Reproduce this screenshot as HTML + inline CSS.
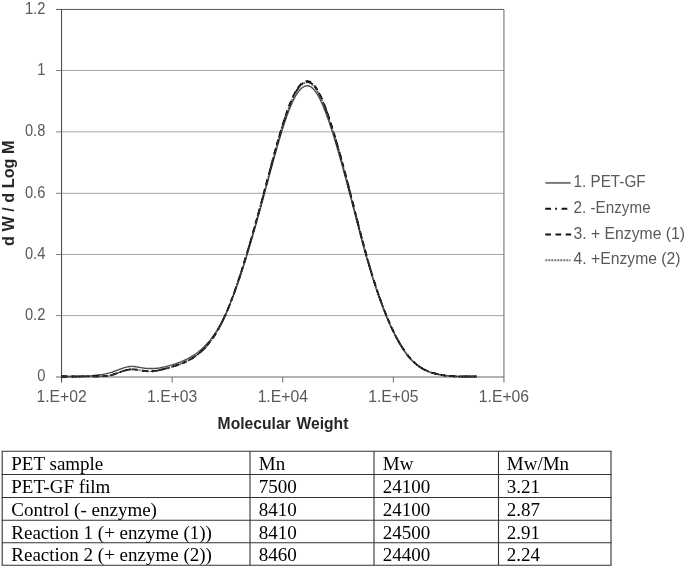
<!DOCTYPE html>
<html><head><meta charset="utf-8"><style>
html,body{margin:0;padding:0;background:#fff;}
body{width:685px;height:566px;overflow:hidden;}
svg{display:block;will-change:transform;}
.ax{font-family:"Liberation Sans",sans-serif;font-size:16.3px;fill:#595959;}
.tt{font-family:"Liberation Sans",sans-serif;font-size:16.5px;font-weight:bold;fill:#262626;}
.tb{font-family:"Liberation Serif",serif;font-size:19px;fill:#000;}
</style></head><body>
<svg width="685" height="566" viewBox="0 0 685 566">
<rect width="685" height="566" fill="#fff"/>
<line x1="61.57" y1="70.50" x2="503.93" y2="70.50" stroke="#a6a6a6" stroke-width="1"/>
<line x1="61.57" y1="131.85" x2="503.93" y2="131.85" stroke="#a6a6a6" stroke-width="1"/>
<line x1="61.57" y1="193.30" x2="503.93" y2="193.30" stroke="#a6a6a6" stroke-width="1"/>
<line x1="61.57" y1="254.50" x2="503.93" y2="254.50" stroke="#a6a6a6" stroke-width="1"/>
<line x1="61.57" y1="315.60" x2="503.93" y2="315.60" stroke="#a6a6a6" stroke-width="1"/>
<line x1="56" y1="9.45" x2="503.93" y2="9.45" stroke="#595959" stroke-width="1"/>
<line x1="503.93" y1="9.45" x2="503.93" y2="382.6" stroke="#808080" stroke-width="1.2"/>
<line x1="56" y1="377.0" x2="503.93" y2="377.0" stroke="#666" stroke-width="1.1"/>
<line x1="61.57" y1="9.45" x2="61.57" y2="382.6" stroke="#404040" stroke-width="1"/>
<line x1="56" y1="70.50" x2="61.57" y2="70.50" stroke="#808080" stroke-width="1"/>
<line x1="56" y1="131.85" x2="61.57" y2="131.85" stroke="#808080" stroke-width="1"/>
<line x1="56" y1="193.30" x2="61.57" y2="193.30" stroke="#808080" stroke-width="1"/>
<line x1="56" y1="254.50" x2="61.57" y2="254.50" stroke="#808080" stroke-width="1"/>
<line x1="56" y1="315.60" x2="61.57" y2="315.60" stroke="#808080" stroke-width="1"/>
<line x1="172.16" y1="376.95" x2="172.16" y2="382.6" stroke="#707070" stroke-width="1"/>
<line x1="282.75" y1="376.95" x2="282.75" y2="382.6" stroke="#707070" stroke-width="1"/>
<line x1="393.34" y1="376.95" x2="393.34" y2="382.6" stroke="#707070" stroke-width="1"/>
<g class="ax">
<text transform="translate(45.30,381.45) scale(0.9,1)" text-anchor="end">0</text>

<text transform="translate(45.30,320.20) scale(0.9,1)" text-anchor="end">0.2</text>

<text transform="translate(45.30,258.95) scale(0.9,1)" text-anchor="end">0.4</text>

<text transform="translate(45.30,197.70) scale(0.9,1)" text-anchor="end">0.6</text>

<text transform="translate(45.30,136.45) scale(0.9,1)" text-anchor="end">0.8</text>

<text transform="translate(45.30,75.20) scale(0.9,1)" text-anchor="end">1</text>

<text transform="translate(45.30,13.95) scale(0.9,1)" text-anchor="end">1.2</text>

<text transform="translate(61.57,402.25) scale(0.965,1)" text-anchor="middle">1.E+02</text>

<text transform="translate(172.16,402.25) scale(0.965,1)" text-anchor="middle">1.E+03</text>

<text transform="translate(282.75,402.25) scale(0.965,1)" text-anchor="middle">1.E+04</text>

<text transform="translate(393.34,402.25) scale(0.965,1)" text-anchor="middle">1.E+05</text>

<text transform="translate(503.93,402.25) scale(0.965,1)" text-anchor="middle">1.E+06</text>

</g>
<path d="M61.5,376.49 L62.5,376.50 L63.5,376.50 L64.5,376.50 L65.5,376.50 L66.5,376.50 L67.5,376.50 L68.5,376.50 L69.5,376.50 L70.5,376.50 L71.5,376.50 L72.5,376.50 L73.5,376.50 L74.5,376.50 L75.5,376.50 L76.5,376.50 L77.5,376.50 L78.5,376.49 L79.5,376.47 L80.5,376.45 L81.5,376.43 L82.5,376.40 L83.5,376.38 L84.5,376.36 L85.5,376.34 L86.5,376.32 L87.5,376.30 L88.5,376.27 L89.5,376.18 L90.5,376.03 L91.5,375.85 L92.5,375.67 L93.5,375.51 L94.5,375.38 L95.5,375.26 L96.5,375.15 L97.5,375.04 L98.5,374.94 L99.5,374.83 L100.5,374.72 L101.5,374.60 L102.5,374.46 L103.5,374.29 L104.5,374.09 L105.5,373.88 L106.5,373.64 L107.5,373.40 L108.5,373.16 L109.5,372.91 L110.5,372.63 L111.5,372.33 L112.5,372.00 L113.5,371.65 L114.5,371.28 L115.5,370.91 L116.5,370.52 L117.5,370.13 L118.5,369.75 L119.5,369.37 L120.5,369.00 L121.5,368.64 L122.5,368.29 L123.5,367.95 L124.5,367.64 L125.5,367.36 L126.5,367.10 L127.5,366.88 L128.5,366.69 L129.5,366.55 L130.5,366.45 L131.5,366.40 L132.5,366.40 L133.5,366.46 L134.5,366.56 L135.5,366.70 L136.5,366.86 L137.5,367.04 L138.5,367.22 L139.5,367.40 L140.5,367.57 L141.5,367.74 L142.5,367.90 L143.5,368.06 L144.5,368.20 L145.5,368.32 L146.5,368.42 L147.5,368.50 L148.5,368.54 L149.5,368.56 L150.5,368.55 L151.5,368.54 L152.5,368.52 L153.5,368.49 L154.5,368.45 L155.5,368.39 L156.5,368.31 L157.5,368.22 L158.5,368.09 L159.5,367.94 L160.5,367.76 L161.5,367.56 L162.5,367.35 L163.5,367.13 L164.5,366.90 L165.5,366.66 L166.5,366.42 L167.5,366.16 L168.5,365.90 L169.5,365.62 L170.5,365.35 L171.5,365.06 L172.5,364.77 L173.5,364.46 L174.5,364.14 L175.5,363.81 L176.5,363.46 L177.5,363.10 L178.5,362.73 L179.5,362.35 L180.5,361.96 L181.5,361.55 L182.5,361.13 L183.5,360.69 L184.5,360.24 L185.5,359.78 L186.5,359.30 L187.5,358.80 L188.5,358.27 L189.5,357.72 L190.5,357.16 L191.5,356.56 L192.5,355.95 L193.5,355.31 L194.5,354.65 L195.5,353.96 L196.5,353.25 L197.5,352.50 L198.5,351.73 L199.5,350.93 L200.5,350.10 L201.5,349.23 L202.5,348.32 L203.5,347.38 L204.5,346.39 L205.5,345.36 L206.5,344.30 L207.5,343.20 L208.5,342.05 L209.5,340.87 L210.5,339.64 L211.5,338.35 L212.5,337.02 L213.5,335.64 L214.5,334.20 L215.5,332.70 L216.5,331.15 L217.5,329.55 L218.5,327.88 L219.5,326.16 L220.5,324.37 L221.5,322.52 L222.5,320.60 L223.5,318.62 L224.5,316.56 L225.5,314.44 L226.5,312.25 L227.5,309.99 L228.5,307.67 L229.5,305.28 L230.5,302.83 L231.5,300.33 L232.5,297.76 L233.5,295.14 L234.5,292.46 L235.5,289.74 L236.5,286.97 L237.5,284.16 L238.5,281.30 L239.5,278.40 L240.5,275.44 L241.5,272.44 L242.5,269.39 L243.5,266.28 L244.5,263.11 L245.5,259.89 L246.5,256.64 L247.5,253.35 L248.5,250.03 L249.5,246.67 L250.5,243.29 L251.5,239.88 L252.5,236.44 L253.5,232.98 L254.5,229.49 L255.5,225.97 L256.5,222.44 L257.5,218.87 L258.5,215.29 L259.5,211.69 L260.5,208.06 L261.5,204.42 L262.5,200.76 L263.5,197.08 L264.5,193.39 L265.5,189.69 L266.5,185.99 L267.5,182.28 L268.5,178.57 L269.5,174.87 L270.5,171.17 L271.5,167.49 L272.5,163.82 L273.5,160.17 L274.5,156.55 L275.5,152.96 L276.5,149.40 L277.5,145.88 L278.5,142.41 L279.5,138.99 L280.5,135.63 L281.5,132.34 L282.5,129.11 L283.5,125.96 L284.5,122.90 L285.5,119.92 L286.5,117.03 L287.5,114.24 L288.5,111.56 L289.5,108.99 L290.5,106.53 L291.5,104.20 L292.5,101.99 L293.5,99.92 L294.5,97.98 L295.5,96.17 L296.5,94.50 L297.5,92.97 L298.5,91.59 L299.5,90.34 L300.5,89.24 L301.5,88.29 L302.5,87.49 L303.5,86.84 L304.5,86.34 L305.5,86.00 L306.5,85.82 L307.5,85.80 L308.5,85.94 L309.5,86.24 L310.5,86.71 L311.5,87.35 L312.5,88.15 L313.5,89.13 L314.5,90.27 L315.5,91.56 L316.5,93.01 L317.5,94.60 L318.5,96.34 L319.5,98.21 L320.5,100.21 L321.5,102.33 L322.5,104.58 L323.5,106.94 L324.5,109.40 L325.5,111.97 L326.5,114.64 L327.5,117.40 L328.5,120.25 L329.5,123.18 L330.5,126.18 L331.5,129.26 L332.5,132.40 L333.5,135.60 L334.5,138.85 L335.5,142.16 L336.5,145.53 L337.5,148.94 L338.5,152.40 L339.5,155.90 L340.5,159.44 L341.5,163.03 L342.5,166.65 L343.5,170.31 L344.5,174.00 L345.5,177.71 L346.5,181.46 L347.5,185.23 L348.5,189.03 L349.5,192.84 L350.5,196.67 L351.5,200.52 L352.5,204.38 L353.5,208.25 L354.5,212.13 L355.5,216.01 L356.5,219.88 L357.5,223.74 L358.5,227.60 L359.5,231.43 L360.5,235.24 L361.5,239.02 L362.5,242.76 L363.5,246.47 L364.5,250.13 L365.5,253.75 L366.5,257.31 L367.5,260.81 L368.5,264.26 L369.5,267.65 L370.5,270.98 L371.5,274.26 L372.5,277.48 L373.5,280.64 L374.5,283.75 L375.5,286.81 L376.5,289.80 L377.5,292.74 L378.5,295.63 L379.5,298.45 L380.5,301.23 L381.5,303.94 L382.5,306.61 L383.5,309.21 L384.5,311.76 L385.5,314.26 L386.5,316.70 L387.5,319.08 L388.5,321.41 L389.5,323.68 L390.5,325.90 L391.5,328.07 L392.5,330.18 L393.5,332.23 L394.5,334.23 L395.5,336.17 L396.5,338.06 L397.5,339.90 L398.5,341.68 L399.5,343.41 L400.5,345.08 L401.5,346.70 L402.5,348.27 L403.5,349.78 L404.5,351.23 L405.5,352.64 L406.5,353.98 L407.5,355.28 L408.5,356.52 L409.5,357.71 L410.5,358.84 L411.5,359.93 L412.5,360.95 L413.5,361.93 L414.5,362.86 L415.5,363.74 L416.5,364.58 L417.5,365.37 L418.5,366.11 L419.5,366.82 L420.5,367.49 L421.5,368.11 L422.5,368.70 L423.5,369.26 L424.5,369.78 L425.5,370.27 L426.5,370.73 L427.5,371.16 L428.5,371.57 L429.5,371.94 L430.5,372.30 L431.5,372.63 L432.5,372.94 L433.5,373.23 L434.5,373.50 L435.5,373.76 L436.5,374.00 L437.5,374.23 L438.5,374.44 L439.5,374.64 L440.5,374.83 L441.5,375.00 L442.5,375.17 L443.5,375.32 L444.5,375.46 L445.5,375.58 L446.5,375.70 L447.5,375.81 L448.5,375.91 L449.5,376.00 L450.5,376.08 L451.5,376.15 L452.5,376.22 L453.5,376.28 L454.5,376.33 L455.5,376.37 L456.5,376.41 L457.5,376.44 L458.5,376.46 L459.5,376.48 L460.5,376.50 L461.5,376.50 L462.5,376.50 L463.5,376.50 L464.5,376.50 L465.5,376.50 L466.5,376.50 L467.5,376.50 L468.5,376.50 L469.5,376.50 L470.5,376.50 L471.5,376.49 L472.5,376.49 L473.5,376.48 L474.5,376.48 L475.5,376.48 L476.5,376.47" fill="none" stroke="#505050" stroke-width="1.4" stroke-linejoin="round"/>
<path d="M61.5,376.49 L62.5,376.50 L63.5,376.50 L64.5,376.50 L65.5,376.50 L66.5,376.50 L67.5,376.50 L68.5,376.50 L69.5,376.50 L70.5,376.50 L71.5,376.50 L72.5,376.50 L73.5,376.50 L74.5,376.50 L75.5,376.50 L76.5,376.50 L77.5,376.50 L78.5,376.49 L79.5,376.47 L80.5,376.45 L81.5,376.42 L82.5,376.40 L83.5,376.38 L84.5,376.36 L85.5,376.34 L86.5,376.32 L87.5,376.30 L88.5,376.28 L89.5,376.27 L90.5,376.25 L91.5,376.24 L92.5,376.24 L93.5,376.23 L94.5,376.23 L95.5,376.23 L96.5,376.23 L97.5,376.23 L98.5,376.23 L99.5,376.23 L100.5,376.22 L101.5,376.22 L102.5,376.20 L103.5,376.18 L104.5,376.13 L105.5,376.07 L106.5,375.98 L107.5,375.86 L108.5,375.71 L109.5,375.53 L110.5,375.30 L111.5,375.05 L112.5,374.76 L113.5,374.45 L114.5,374.12 L115.5,373.78 L116.5,373.42 L117.5,373.05 L118.5,372.68 L119.5,372.31 L120.5,371.94 L121.5,371.58 L122.5,371.24 L123.5,370.91 L124.5,370.60 L125.5,370.32 L126.5,370.07 L127.5,369.84 L128.5,369.66 L129.5,369.52 L130.5,369.42 L131.5,369.37 L132.5,369.37 L133.5,369.40 L134.5,369.46 L135.5,369.56 L136.5,369.68 L137.5,369.82 L138.5,369.97 L139.5,370.14 L140.5,370.31 L141.5,370.48 L142.5,370.65 L143.5,370.81 L144.5,370.96 L145.5,371.09 L146.5,371.19 L147.5,371.27 L148.5,371.32 L149.5,371.34 L150.5,371.33 L151.5,371.29 L152.5,371.23 L153.5,371.14 L154.5,371.03 L155.5,370.90 L156.5,370.74 L157.5,370.57 L158.5,370.38 L159.5,370.17 L160.5,369.95 L161.5,369.71 L162.5,369.47 L163.5,369.21 L164.5,368.94 L165.5,368.67 L166.5,368.38 L167.5,368.10 L168.5,367.81 L169.5,367.52 L170.5,367.22 L171.5,366.92 L172.5,366.63 L173.5,366.32 L174.5,366.01 L175.5,365.69 L176.5,365.37 L177.5,365.04 L178.5,364.69 L179.5,364.33 L180.5,363.97 L181.5,363.58 L182.5,363.19 L183.5,362.77 L184.5,362.34 L185.5,361.89 L186.5,361.43 L187.5,360.94 L188.5,360.42 L189.5,359.89 L190.5,359.33 L191.5,358.75 L192.5,358.14 L193.5,357.50 L194.5,356.83 L195.5,356.14 L196.5,355.41 L197.5,354.65 L198.5,353.86 L199.5,353.03 L200.5,352.17 L201.5,351.27 L202.5,350.33 L203.5,349.35 L204.5,348.32 L205.5,347.26 L206.5,346.15 L207.5,345.00 L208.5,343.79 L209.5,342.54 L210.5,341.24 L211.5,339.89 L212.5,338.49 L213.5,337.03 L214.5,335.52 L215.5,333.95 L216.5,332.32 L217.5,330.63 L218.5,328.88 L219.5,327.07 L220.5,325.20 L221.5,323.26 L222.5,321.25 L223.5,319.17 L224.5,317.03 L225.5,314.81 L226.5,312.53 L227.5,310.18 L228.5,307.76 L229.5,305.28 L230.5,302.74 L231.5,300.14 L232.5,297.47 L233.5,294.76 L234.5,291.98 L235.5,289.15 L236.5,286.28 L237.5,283.35 L238.5,280.37 L239.5,277.35 L240.5,274.28 L241.5,271.16 L242.5,268.01 L243.5,264.82 L244.5,261.59 L245.5,258.32 L246.5,255.02 L247.5,251.69 L248.5,248.32 L249.5,244.92 L250.5,241.50 L251.5,238.04 L252.5,234.55 L253.5,231.04 L254.5,227.51 L255.5,223.94 L256.5,220.36 L257.5,216.75 L258.5,213.12 L259.5,209.46 L260.5,205.79 L261.5,202.10 L262.5,198.39 L263.5,194.66 L264.5,190.92 L265.5,187.17 L266.5,183.42 L267.5,179.66 L268.5,175.90 L269.5,172.15 L270.5,168.40 L271.5,164.67 L272.5,160.95 L273.5,157.26 L274.5,153.58 L275.5,149.94 L276.5,146.33 L277.5,142.77 L278.5,139.25 L279.5,135.79 L280.5,132.38 L281.5,129.04 L282.5,125.78 L283.5,122.58 L284.5,119.48 L285.5,116.46 L286.5,113.53 L287.5,110.71 L288.5,107.99 L289.5,105.38 L290.5,102.89 L291.5,100.53 L292.5,98.29 L293.5,96.19 L294.5,94.22 L295.5,92.39 L296.5,90.70 L297.5,89.15 L298.5,87.74 L299.5,86.48 L300.5,85.37 L301.5,84.41 L302.5,83.59 L303.5,82.93 L304.5,82.43 L305.5,82.09 L306.5,81.90 L307.5,81.88 L308.5,82.02 L309.5,82.33 L310.5,82.80 L311.5,83.45 L312.5,84.26 L313.5,85.25 L314.5,86.41 L315.5,87.72 L316.5,89.18 L317.5,90.80 L318.5,92.56 L319.5,94.45 L320.5,96.48 L321.5,98.64 L322.5,100.91 L323.5,103.30 L324.5,105.80 L325.5,108.41 L326.5,111.11 L327.5,113.91 L328.5,116.79 L329.5,119.76 L330.5,122.81 L331.5,125.92 L332.5,129.10 L333.5,132.35 L334.5,135.65 L335.5,139.00 L336.5,142.41 L337.5,145.87 L338.5,149.37 L339.5,152.92 L340.5,156.52 L341.5,160.15 L342.5,163.82 L343.5,167.53 L344.5,171.26 L345.5,175.03 L346.5,178.83 L347.5,182.65 L348.5,186.50 L349.5,190.36 L350.5,194.25 L351.5,198.15 L352.5,202.06 L353.5,205.98 L354.5,209.91 L355.5,213.84 L356.5,217.77 L357.5,221.68 L358.5,225.59 L359.5,229.47 L360.5,233.33 L361.5,237.16 L362.5,240.96 L363.5,244.72 L364.5,248.43 L365.5,252.09 L366.5,255.70 L367.5,259.25 L368.5,262.74 L369.5,266.18 L370.5,269.56 L371.5,272.88 L372.5,276.14 L373.5,279.35 L374.5,282.50 L375.5,285.60 L376.5,288.63 L377.5,291.61 L378.5,294.54 L379.5,297.40 L380.5,300.21 L381.5,302.97 L382.5,305.66 L383.5,308.30 L384.5,310.89 L385.5,313.42 L386.5,315.89 L387.5,318.31 L388.5,320.67 L389.5,322.97 L390.5,325.22 L391.5,327.41 L392.5,329.55 L393.5,331.63 L394.5,333.66 L395.5,335.63 L396.5,337.55 L397.5,339.41 L398.5,341.21 L399.5,342.96 L400.5,344.66 L401.5,346.30 L402.5,347.88 L403.5,349.42 L404.5,350.89 L405.5,352.31 L406.5,353.68 L407.5,354.99 L408.5,356.25 L409.5,357.46 L410.5,358.61 L411.5,359.70 L412.5,360.74 L413.5,361.74 L414.5,362.68 L415.5,363.57 L416.5,364.42 L417.5,365.22 L418.5,365.97 L419.5,366.69 L420.5,367.36 L421.5,368.00 L422.5,368.60 L423.5,369.16 L424.5,369.69 L425.5,370.19 L426.5,370.65 L427.5,371.09 L428.5,371.50 L429.5,371.88 L430.5,372.24 L431.5,372.58 L432.5,372.89 L433.5,373.18 L434.5,373.46 L435.5,373.72 L436.5,373.97 L437.5,374.20 L438.5,374.41 L439.5,374.62 L440.5,374.81 L441.5,374.98 L442.5,375.15 L443.5,375.30 L444.5,375.44 L445.5,375.57 L446.5,375.69 L447.5,375.80 L448.5,375.90 L449.5,375.99 L450.5,376.08 L451.5,376.15 L452.5,376.21 L453.5,376.27 L454.5,376.32 L455.5,376.37 L456.5,376.40 L457.5,376.44 L458.5,376.46 L459.5,376.48 L460.5,376.50 L461.5,376.50 L462.5,376.50 L463.5,376.50 L464.5,376.50 L465.5,376.50 L466.5,376.50 L467.5,376.50 L468.5,376.50 L469.5,376.50 L470.5,376.50 L471.5,376.49 L472.5,376.49 L473.5,376.48 L474.5,376.48 L475.5,376.47 L476.5,376.47" fill="none" stroke="#000" stroke-width="1.8" stroke-dasharray="5.7,4.2,1.8,4.6" stroke-linejoin="round"/>
<path d="M61.5,376.49 L62.5,376.50 L63.5,376.50 L64.5,376.50 L65.5,376.50 L66.5,376.50 L67.5,376.50 L68.5,376.50 L69.5,376.50 L70.5,376.50 L71.5,376.50 L72.5,376.50 L73.5,376.50 L74.5,376.50 L75.5,376.50 L76.5,376.50 L77.5,376.50 L78.5,376.49 L79.5,376.47 L80.5,376.45 L81.5,376.42 L82.5,376.40 L83.5,376.38 L84.5,376.36 L85.5,376.34 L86.5,376.32 L87.5,376.30 L88.5,376.28 L89.5,376.27 L90.5,376.25 L91.5,376.24 L92.5,376.24 L93.5,376.23 L94.5,376.23 L95.5,376.23 L96.5,376.23 L97.5,376.23 L98.5,376.23 L99.5,376.23 L100.5,376.22 L101.5,376.22 L102.5,376.20 L103.5,376.17 L104.5,376.13 L105.5,376.07 L106.5,375.98 L107.5,375.86 L108.5,375.71 L109.5,375.52 L110.5,375.30 L111.5,375.04 L112.5,374.76 L113.5,374.45 L114.5,374.12 L115.5,373.77 L116.5,373.41 L117.5,373.04 L118.5,372.67 L119.5,372.30 L120.5,371.93 L121.5,371.57 L122.5,371.23 L123.5,370.90 L124.5,370.59 L125.5,370.31 L126.5,370.05 L127.5,369.83 L128.5,369.65 L129.5,369.50 L130.5,369.41 L131.5,369.36 L132.5,369.35 L133.5,369.38 L134.5,369.45 L135.5,369.54 L136.5,369.66 L137.5,369.80 L138.5,369.96 L139.5,370.12 L140.5,370.29 L141.5,370.47 L142.5,370.64 L143.5,370.80 L144.5,370.94 L145.5,371.07 L146.5,371.18 L147.5,371.26 L148.5,371.31 L149.5,371.33 L150.5,371.32 L151.5,371.28 L152.5,371.22 L153.5,371.13 L154.5,371.02 L155.5,370.88 L156.5,370.73 L157.5,370.56 L158.5,370.36 L159.5,370.16 L160.5,369.93 L161.5,369.70 L162.5,369.45 L163.5,369.19 L164.5,368.92 L165.5,368.65 L166.5,368.37 L167.5,368.08 L168.5,367.79 L169.5,367.49 L170.5,367.20 L171.5,366.90 L172.5,366.60 L173.5,366.30 L174.5,365.99 L175.5,365.67 L176.5,365.34 L177.5,365.01 L178.5,364.66 L179.5,364.31 L180.5,363.94 L181.5,363.55 L182.5,363.16 L183.5,362.74 L184.5,362.31 L185.5,361.86 L186.5,361.39 L187.5,360.90 L188.5,360.39 L189.5,359.85 L190.5,359.29 L191.5,358.71 L192.5,358.10 L193.5,357.46 L194.5,356.79 L195.5,356.09 L196.5,355.36 L197.5,354.60 L198.5,353.81 L199.5,352.98 L200.5,352.11 L201.5,351.21 L202.5,350.27 L203.5,349.28 L204.5,348.26 L205.5,347.19 L206.5,346.08 L207.5,344.92 L208.5,343.72 L209.5,342.47 L210.5,341.16 L211.5,339.81 L212.5,338.40 L213.5,336.94 L214.5,335.42 L215.5,333.85 L216.5,332.22 L217.5,330.53 L218.5,328.77 L219.5,326.96 L220.5,325.08 L221.5,323.13 L222.5,321.12 L223.5,319.04 L224.5,316.89 L225.5,314.67 L226.5,312.38 L227.5,310.03 L228.5,307.61 L229.5,305.12 L230.5,302.57 L231.5,299.96 L232.5,297.29 L233.5,294.57 L234.5,291.79 L235.5,288.95 L236.5,286.07 L237.5,283.13 L238.5,280.15 L239.5,277.12 L240.5,274.04 L241.5,270.92 L242.5,267.76 L243.5,264.56 L244.5,261.33 L245.5,258.05 L246.5,254.74 L247.5,251.40 L248.5,248.03 L249.5,244.62 L250.5,241.19 L251.5,237.72 L252.5,234.23 L253.5,230.71 L254.5,227.17 L255.5,223.60 L256.5,220.00 L257.5,216.38 L258.5,212.74 L259.5,209.08 L260.5,205.40 L261.5,201.70 L262.5,197.98 L263.5,194.25 L264.5,190.50 L265.5,186.74 L266.5,182.98 L267.5,179.21 L268.5,175.44 L269.5,171.68 L270.5,167.93 L271.5,164.18 L272.5,160.46 L273.5,156.75 L274.5,153.07 L275.5,149.42 L276.5,145.81 L277.5,142.23 L278.5,138.71 L279.5,135.24 L280.5,131.82 L281.5,128.48 L282.5,125.20 L283.5,122.00 L284.5,118.89 L285.5,115.86 L286.5,112.93 L287.5,110.10 L288.5,107.37 L289.5,104.76 L290.5,102.27 L291.5,99.90 L292.5,97.66 L293.5,95.55 L294.5,93.58 L295.5,91.74 L296.5,90.05 L297.5,88.49 L298.5,87.08 L299.5,85.82 L300.5,84.70 L301.5,83.74 L302.5,82.92 L303.5,82.26 L304.5,81.76 L305.5,81.41 L306.5,81.23 L307.5,81.20 L308.5,81.35 L309.5,81.65 L310.5,82.13 L311.5,82.78 L312.5,83.60 L313.5,84.59 L314.5,85.74 L315.5,87.06 L316.5,88.53 L317.5,90.15 L318.5,91.91 L319.5,93.81 L320.5,95.84 L321.5,98.00 L322.5,100.28 L323.5,102.68 L324.5,105.18 L325.5,107.79 L326.5,110.50 L327.5,113.31 L328.5,116.20 L329.5,119.17 L330.5,122.23 L331.5,125.35 L332.5,128.54 L333.5,131.79 L334.5,135.10 L335.5,138.46 L336.5,141.88 L337.5,145.34 L338.5,148.85 L339.5,152.41 L340.5,156.01 L341.5,159.65 L342.5,163.33 L343.5,167.05 L344.5,170.79 L345.5,174.57 L346.5,178.38 L347.5,182.21 L348.5,186.06 L349.5,189.94 L350.5,193.83 L351.5,197.74 L352.5,201.66 L353.5,205.59 L354.5,209.53 L355.5,213.47 L356.5,217.40 L357.5,221.33 L358.5,225.24 L359.5,229.14 L360.5,233.00 L361.5,236.84 L362.5,240.65 L363.5,244.41 L364.5,248.13 L365.5,251.81 L366.5,255.42 L367.5,258.98 L368.5,262.48 L369.5,265.93 L370.5,269.31 L371.5,272.64 L372.5,275.92 L373.5,279.13 L374.5,282.29 L375.5,285.39 L376.5,288.43 L377.5,291.42 L378.5,294.35 L379.5,297.22 L380.5,300.04 L381.5,302.80 L382.5,305.50 L383.5,308.15 L384.5,310.74 L385.5,313.27 L386.5,315.75 L387.5,318.17 L388.5,320.54 L389.5,322.85 L390.5,325.10 L391.5,327.30 L392.5,329.44 L393.5,331.53 L394.5,333.56 L395.5,335.54 L396.5,337.46 L397.5,339.32 L398.5,341.13 L399.5,342.89 L400.5,344.59 L401.5,346.23 L402.5,347.82 L403.5,349.35 L404.5,350.83 L405.5,352.26 L406.5,353.63 L407.5,354.94 L408.5,356.21 L409.5,357.41 L410.5,358.57 L411.5,359.66 L412.5,360.71 L413.5,361.70 L414.5,362.65 L415.5,363.54 L416.5,364.39 L417.5,365.19 L418.5,365.95 L419.5,366.67 L420.5,367.34 L421.5,367.98 L422.5,368.58 L423.5,369.15 L424.5,369.68 L425.5,370.17 L426.5,370.64 L427.5,371.08 L428.5,371.49 L429.5,371.87 L430.5,372.23 L431.5,372.57 L432.5,372.88 L433.5,373.18 L434.5,373.45 L435.5,373.71 L436.5,373.96 L437.5,374.19 L438.5,374.41 L439.5,374.61 L440.5,374.80 L441.5,374.98 L442.5,375.14 L443.5,375.30 L444.5,375.44 L445.5,375.57 L446.5,375.69 L447.5,375.80 L448.5,375.90 L449.5,375.99 L450.5,376.07 L451.5,376.15 L452.5,376.21 L453.5,376.27 L454.5,376.32 L455.5,376.37 L456.5,376.40 L457.5,376.44 L458.5,376.46 L459.5,376.48 L460.5,376.50 L461.5,376.50 L462.5,376.50 L463.5,376.50 L464.5,376.50 L465.5,376.50 L466.5,376.50 L467.5,376.50 L468.5,376.50 L469.5,376.50 L470.5,376.50 L471.5,376.49 L472.5,376.49 L473.5,376.48 L474.5,376.48 L475.5,376.47 L476.5,376.47" fill="none" stroke="#000" stroke-width="1.8" stroke-dasharray="5.7,4.5" stroke-linejoin="round"/>
<path d="M61.5,376.49 L62.5,376.50 L63.5,376.50 L64.5,376.50 L65.5,376.50 L66.5,376.50 L67.5,376.50 L68.5,376.50 L69.5,376.50 L70.5,376.50 L71.5,376.50 L72.5,376.50 L73.5,376.50 L74.5,376.50 L75.5,376.50 L76.5,376.50 L77.5,376.50 L78.5,376.49 L79.5,376.47 L80.5,376.45 L81.5,376.43 L82.5,376.40 L83.5,376.38 L84.5,376.36 L85.5,376.34 L86.5,376.32 L87.5,376.30 L88.5,376.28 L89.5,376.27 L90.5,376.25 L91.5,376.24 L92.5,376.24 L93.5,376.23 L94.5,376.23 L95.5,376.23 L96.5,376.23 L97.5,376.23 L98.5,376.23 L99.5,376.23 L100.5,376.22 L101.5,376.22 L102.5,376.20 L103.5,376.18 L104.5,376.13 L105.5,376.07 L106.5,375.98 L107.5,375.86 L108.5,375.71 L109.5,375.53 L110.5,375.31 L111.5,375.05 L112.5,374.77 L113.5,374.46 L114.5,374.13 L115.5,373.78 L116.5,373.42 L117.5,373.06 L118.5,372.69 L119.5,372.32 L120.5,371.95 L121.5,371.59 L122.5,371.25 L123.5,370.92 L124.5,370.61 L125.5,370.33 L126.5,370.08 L127.5,369.86 L128.5,369.67 L129.5,369.53 L130.5,369.44 L131.5,369.39 L132.5,369.38 L133.5,369.41 L134.5,369.48 L135.5,369.57 L136.5,369.69 L137.5,369.83 L138.5,369.99 L139.5,370.15 L140.5,370.32 L141.5,370.49 L142.5,370.66 L143.5,370.82 L144.5,370.97 L145.5,371.10 L146.5,371.20 L147.5,371.28 L148.5,371.33 L149.5,371.35 L150.5,371.34 L151.5,371.30 L152.5,371.24 L153.5,371.15 L154.5,371.04 L155.5,370.91 L156.5,370.75 L157.5,370.58 L158.5,370.39 L159.5,370.18 L160.5,369.96 L161.5,369.73 L162.5,369.48 L163.5,369.22 L164.5,368.96 L165.5,368.68 L166.5,368.40 L167.5,368.12 L168.5,367.83 L169.5,367.53 L170.5,367.24 L171.5,366.94 L172.5,366.65 L173.5,366.34 L174.5,366.03 L175.5,365.72 L176.5,365.39 L177.5,365.06 L178.5,364.72 L179.5,364.36 L180.5,363.99 L181.5,363.61 L182.5,363.21 L183.5,362.80 L184.5,362.37 L185.5,361.92 L186.5,361.46 L187.5,360.97 L188.5,360.46 L189.5,359.93 L190.5,359.37 L191.5,358.79 L192.5,358.18 L193.5,357.54 L194.5,356.88 L195.5,356.18 L196.5,355.45 L197.5,354.70 L198.5,353.90 L199.5,353.08 L200.5,352.22 L201.5,351.32 L202.5,350.38 L203.5,349.40 L204.5,348.38 L205.5,347.32 L206.5,346.21 L207.5,345.06 L208.5,343.86 L209.5,342.62 L210.5,341.32 L211.5,339.97 L212.5,338.57 L213.5,337.11 L214.5,335.60 L215.5,334.04 L216.5,332.41 L217.5,330.73 L218.5,328.98 L219.5,327.17 L220.5,325.30 L221.5,323.37 L222.5,321.36 L223.5,319.29 L224.5,317.15 L225.5,314.94 L226.5,312.66 L227.5,310.32 L228.5,307.91 L229.5,305.43 L230.5,302.89 L231.5,300.29 L232.5,297.64 L233.5,294.93 L234.5,292.16 L235.5,289.34 L236.5,286.46 L237.5,283.54 L238.5,280.57 L239.5,277.55 L240.5,274.49 L241.5,271.38 L242.5,268.24 L243.5,265.05 L244.5,261.83 L245.5,258.57 L246.5,255.27 L247.5,251.95 L248.5,248.59 L249.5,245.20 L250.5,241.78 L251.5,238.33 L252.5,234.85 L253.5,231.35 L254.5,227.82 L255.5,224.26 L256.5,220.68 L257.5,217.08 L258.5,213.46 L259.5,209.81 L260.5,206.15 L261.5,202.46 L262.5,198.76 L263.5,195.04 L264.5,191.31 L265.5,187.57 L266.5,183.82 L267.5,180.07 L268.5,176.32 L269.5,172.57 L270.5,168.83 L271.5,165.11 L272.5,161.40 L273.5,157.71 L274.5,154.05 L275.5,150.41 L276.5,146.81 L277.5,143.25 L278.5,139.74 L279.5,136.29 L280.5,132.89 L281.5,129.56 L282.5,126.30 L283.5,123.11 L284.5,120.01 L285.5,117.00 L286.5,114.08 L287.5,111.26 L288.5,108.55 L289.5,105.94 L290.5,103.46 L291.5,101.10 L292.5,98.87 L293.5,96.77 L294.5,94.81 L295.5,92.98 L296.5,91.29 L297.5,89.75 L298.5,88.34 L299.5,87.09 L300.5,85.97 L301.5,85.01 L302.5,84.20 L303.5,83.54 L304.5,83.04 L305.5,82.70 L306.5,82.51 L307.5,82.49 L308.5,82.63 L309.5,82.94 L310.5,83.41 L311.5,84.06 L312.5,84.87 L313.5,85.86 L314.5,87.01 L315.5,88.32 L316.5,89.78 L317.5,91.39 L318.5,93.15 L319.5,95.04 L320.5,97.06 L321.5,99.21 L322.5,101.48 L323.5,103.87 L324.5,106.36 L325.5,108.96 L326.5,111.66 L327.5,114.45 L328.5,117.33 L329.5,120.30 L330.5,123.33 L331.5,126.44 L332.5,129.62 L333.5,132.86 L334.5,136.15 L335.5,139.50 L336.5,142.90 L337.5,146.35 L338.5,149.85 L339.5,153.39 L340.5,156.97 L341.5,160.60 L342.5,164.26 L343.5,167.96 L344.5,171.69 L345.5,175.45 L346.5,179.24 L347.5,183.06 L348.5,186.89 L349.5,190.75 L350.5,194.63 L351.5,198.52 L352.5,202.42 L353.5,206.34 L354.5,210.26 L355.5,214.18 L356.5,218.10 L357.5,222.01 L358.5,225.90 L359.5,229.78 L360.5,233.63 L361.5,237.45 L362.5,241.24 L363.5,244.99 L364.5,248.69 L365.5,252.35 L366.5,255.95 L367.5,259.49 L368.5,262.98 L369.5,266.41 L370.5,269.78 L371.5,273.10 L372.5,276.35 L373.5,279.55 L374.5,282.70 L375.5,285.79 L376.5,288.82 L377.5,291.79 L378.5,294.71 L379.5,297.57 L380.5,300.37 L381.5,303.12 L382.5,305.81 L383.5,308.45 L384.5,311.02 L385.5,313.55 L386.5,316.02 L387.5,318.43 L388.5,320.78 L389.5,323.08 L390.5,325.33 L391.5,327.51 L392.5,329.65 L393.5,331.73 L394.5,333.75 L395.5,335.72 L396.5,337.63 L397.5,339.48 L398.5,341.29 L399.5,343.03 L400.5,344.72 L401.5,346.36 L402.5,347.94 L403.5,349.47 L404.5,350.95 L405.5,352.36 L406.5,353.73 L407.5,355.04 L408.5,356.29 L409.5,357.50 L410.5,358.64 L411.5,359.74 L412.5,360.78 L413.5,361.77 L414.5,362.71 L415.5,363.60 L416.5,364.44 L417.5,365.24 L418.5,366.00 L419.5,366.71 L420.5,367.38 L421.5,368.02 L422.5,368.62 L423.5,369.18 L424.5,369.71 L425.5,370.20 L426.5,370.67 L427.5,371.10 L428.5,371.51 L429.5,371.89 L430.5,372.25 L431.5,372.58 L432.5,372.90 L433.5,373.19 L434.5,373.47 L435.5,373.73 L436.5,373.97 L437.5,374.20 L438.5,374.42 L439.5,374.62 L440.5,374.81 L441.5,374.99 L442.5,375.15 L443.5,375.30 L444.5,375.44 L445.5,375.57 L446.5,375.69 L447.5,375.80 L448.5,375.90 L449.5,375.99 L450.5,376.08 L451.5,376.15 L452.5,376.21 L453.5,376.27 L454.5,376.32 L455.5,376.37 L456.5,376.40 L457.5,376.44 L458.5,376.46 L459.5,376.48 L460.5,376.50 L461.5,376.50 L462.5,376.50 L463.5,376.50 L464.5,376.50 L465.5,376.50 L466.5,376.50 L467.5,376.50 L468.5,376.50 L469.5,376.50 L470.5,376.50 L471.5,376.49 L472.5,376.49 L473.5,376.48 L474.5,376.48 L475.5,376.47 L476.5,376.47" fill="none" stroke="#444" stroke-width="1.4" stroke-dasharray="2,1" stroke-linejoin="round"/>
<g class="ax">
<line x1="545.3" y1="182.9" x2="570.6" y2="182.9" stroke="#7a7a7a" stroke-width="2.0"/>
<text transform="translate(573.60,186.90) scale(0.935,1)">1. PET-GF</text>

<line x1="545.3" y1="208.8" x2="570.6" y2="208.8" stroke="#111" stroke-width="2.0" stroke-dasharray="5.7,4.2,1.8,4.6"/>
<text transform="translate(573.60,212.80) scale(0.935,1)">2. -Enzyme</text>

<line x1="545.3" y1="234.5" x2="571.1" y2="234.5" stroke="#111" stroke-width="2.0" stroke-dasharray="5.7,4.5"/>
<text transform="translate(573.60,238.50) scale(0.965,1)">3. + Enzyme (1)</text>

<line x1="545.3" y1="260.2" x2="570.6" y2="260.2" stroke="#777" stroke-width="2.0" stroke-dasharray="2,1"/>
<text transform="translate(573.60,264.20) scale(0.965,1)">4. +Enzyme (2)</text>

</g>
<text style="word-spacing:1.5px" transform="translate(283.00,428.90) scale(0.95,1)" text-anchor="middle" class="tt">Molecular Weight</text>

<text class="tt" transform="translate(14.3,193.2) rotate(-90) scale(0.985,1)" text-anchor="middle">d W / d Log M</text>
<g class="tb">
<line x1="1.7000000000000002" y1="451.3" x2="611.5" y2="451.3" stroke="#333" stroke-width="1.1"/>
<line x1="1.7000000000000002" y1="474.5" x2="611.5" y2="474.5" stroke="#333" stroke-width="1.1"/>
<line x1="1.7000000000000002" y1="497.5" x2="611.5" y2="497.5" stroke="#333" stroke-width="1.1"/>
<line x1="1.7000000000000002" y1="520.3" x2="611.5" y2="520.3" stroke="#333" stroke-width="1.1"/>
<line x1="1.7000000000000002" y1="542.7" x2="611.5" y2="542.7" stroke="#333" stroke-width="1.1"/>
<line x1="1.7000000000000002" y1="565.3" x2="611.5" y2="565.3" stroke="#333" stroke-width="1.1"/>
<line x1="2.2" y1="451.3" x2="2.2" y2="565.3" stroke="#333" stroke-width="1.1"/>
<line x1="250" y1="451.3" x2="250" y2="565.3" stroke="#333" stroke-width="1.1"/>
<line x1="374" y1="451.3" x2="374" y2="565.3" stroke="#333" stroke-width="1.1"/>
<line x1="498.5" y1="451.3" x2="498.5" y2="565.3" stroke="#333" stroke-width="1.1"/>
<line x1="611" y1="451.3" x2="611" y2="565.3" stroke="#333" stroke-width="1.1"/>
<text x="11.3" y="469.9">PET sample</text>
<text x="258.8" y="469.9">Mn</text>
<text x="382.8" y="469.9">Mw</text>
<text x="506.8" y="469.9">Mw/Mn</text>
<text x="11.3" y="493.1">PET-GF film</text>
<text x="258.8" y="493.1">7500</text>
<text x="382.8" y="493.1">24100</text>
<text x="506.8" y="493.1">3.21</text>
<text x="11.3" y="516.1">Control (- enzyme)</text>
<text x="258.8" y="516.1">8410</text>
<text x="382.8" y="516.1">24100</text>
<text x="506.8" y="516.1">2.87</text>
<text x="11.3" y="538.9">Reaction 1 (+ enzyme (1))</text>
<text x="258.8" y="538.9">8410</text>
<text x="382.8" y="538.9">24500</text>
<text x="506.8" y="538.9">2.91</text>
<text x="11.3" y="561.3">Reaction 2 (+ enzyme (2))</text>
<text x="258.8" y="561.3">8460</text>
<text x="382.8" y="561.3">24400</text>
<text x="506.8" y="561.3">2.24</text>
</g>
</svg>
</body></html>
